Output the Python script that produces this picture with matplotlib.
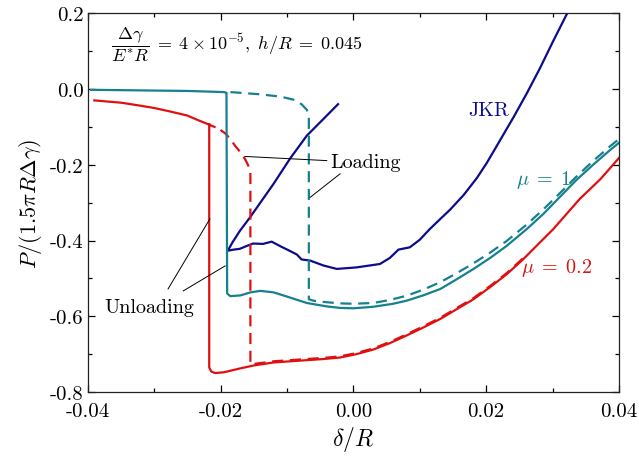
import numpy as np
import matplotlib
matplotlib.use("Agg")
import matplotlib.pyplot as plt

plt.rcParams["font.family"] = "serif"
plt.rcParams["font.serif"] = ["cmr10"]
plt.rcParams["mathtext.fontset"] = "cm"
plt.rcParams["axes.unicode_minus"] = False

nan = np.nan

# mu = 1, unloading (solid)
mu1_unload_x = [-0.0395, -0.0300, -0.0250, -0.0195, -0.0191, -0.0190, -0.0185, -0.0170, -0.0155,
                -0.0140, -0.0120, -0.0100, -0.0070, -0.0040, -0.0020, 0.0000, 0.0030, 0.0060,
                0.0080, 0.0105, 0.0131, 0.0155, 0.0181, 0.0206, 0.0231, 0.0261, 0.0286, 0.0311,
                0.0336, 0.0361, 0.0386, 0.0400]
mu1_unload_p = [-0.002, -0.004, -0.005, -0.008, -0.010, -0.540, -0.547, -0.545, -0.537,
                -0.533, -0.537, -0.548, -0.565, -0.574, -0.578, -0.579, -0.575, -0.567,
                -0.559, -0.545, -0.528, -0.503, -0.475, -0.446, -0.414, -0.370, -0.330, -0.285,
                -0.240, -0.200, -0.162, -0.142]

# mu = 1, loading (dashed)
mu1_load_x = [-0.0185, -0.0170, -0.0140, -0.0110, -0.0090, -0.0078, -0.0070, -0.0067, -0.0067,
              -0.0060, -0.0040, -0.0020, 0.0000, 0.0030, 0.0055, 0.0080, 0.0105, 0.0131, 0.0155,
              0.0181, 0.0206, 0.0231, 0.0261, 0.0286, 0.0311, 0.0336, 0.0361, 0.0386, 0.0400]
mu1_load_p = [-0.008, -0.010, -0.014, -0.020, -0.028, -0.040, -0.055, -0.070, -0.555,
              -0.559, -0.563, -0.566, -0.567, -0.565, -0.557, -0.546, -0.530, -0.510, -0.487,
              -0.460, -0.432, -0.401, -0.358, -0.318, -0.275, -0.231, -0.190, -0.152, -0.132]

# mu = 0.2, unloading (solid)
mu02_unload_x = [-0.0390, -0.0350, -0.0324, -0.0300, -0.0274, -0.0250, -0.0234, -0.0220, -0.0209,
                 nan, -0.0217, -0.0217, -0.0214, -0.0208, -0.0195, -0.0171, -0.0150, -0.0120,
                 -0.0095, -0.0070, -0.0045, -0.0020, 0.0005, 0.0030, 0.0055, 0.0080, 0.0105,
                 0.0131, 0.0155, 0.0181, 0.0206, 0.0231, 0.0256, 0.0281, 0.0301, 0.0321, 0.0341,
                 0.0372, 0.0400]
mu02_unload_p = [-0.030, -0.036, -0.043, -0.050, -0.060, -0.070, -0.082, -0.092, -0.100,
                 nan, -0.093, -0.735, -0.746, -0.750, -0.748, -0.738, -0.730, -0.722,
                 -0.719, -0.716, -0.713, -0.709, -0.700, -0.688, -0.671, -0.651, -0.630,
                 -0.607, -0.582, -0.555, -0.523, -0.489, -0.449, -0.405, -0.370, -0.330, -0.290,
                 -0.238, -0.182]

# mu = 0.2, loading (dashed)
mu02_load_x = [-0.0200, -0.0193, -0.0185, -0.0178, -0.0170, -0.0163, -0.0158, -0.0155, -0.0155,
               -0.0150, -0.0120, -0.0095, -0.0070, -0.0045, -0.0020, 0.0005, 0.0030, 0.0055,
               0.0080, 0.0105, 0.0131, 0.0155, 0.0181, 0.0206, 0.0231, 0.0256]
mu02_load_p = [-0.108, -0.117, -0.132, -0.150, -0.167, -0.185, -0.203, -0.220, -0.727,
               -0.726, -0.719, -0.716, -0.713, -0.710, -0.706, -0.697, -0.685, -0.668,
               -0.648, -0.627, -0.604, -0.579, -0.552, -0.520, -0.486, -0.446]

# JKR
jkr_x = [-0.0023, -0.0045, -0.0070, -0.0095, -0.0120, -0.0140, -0.0156, -0.0171, -0.0182, -0.0189,
         -0.0180, -0.0171, -0.0160, -0.0151, -0.0136, -0.0123, -0.0110, -0.0095, -0.0085, -0.0078,
         -0.0065, -0.0045, -0.0025, 0.0005, 0.0040, 0.0055, 0.0068, 0.0085, 0.0100, 0.0115,
         0.0131, 0.0146, 0.0166, 0.0186, 0.0201, 0.0221, 0.0241, 0.0261, 0.0281, 0.0301, 0.0322]
jkr_p = [-0.040, -0.079, -0.123, -0.183, -0.250, -0.300, -0.340, -0.375, -0.405, -0.427,
         -0.424, -0.422, -0.414, -0.408, -0.409, -0.403, -0.415, -0.428, -0.437, -0.450,
         -0.453, -0.466, -0.475, -0.471, -0.462, -0.446, -0.424, -0.418, -0.398, -0.370,
         -0.343, -0.318, -0.280, -0.235, -0.195, -0.135, -0.075, -0.012, 0.055, 0.127, 0.200]

x_ticks = [-0.04, -0.02, 0.00, 0.02, 0.04]
x_tick_labels = ["-0.04", "-0.02", "0.00", "0.02", "0.04"]
y_ticks = [-0.8, -0.6, -0.4, -0.2, 0.0, 0.2]
y_tick_labels = ["-0.8", "-0.6", "-0.4", "-0.2", "0.0", "0.2"]

navy = "#0c0c8c"
teal = "#16808f"
red = "#e01010"

fig = plt.figure(figsize=(6.39, 4.60), dpi=100)
ax = fig.add_axes([0.1372, 0.1457, 0.8315, 0.8232])

lw = 1.6
ax.plot(jkr_x, jkr_p, color=navy, lw=lw)
ax.plot(mu02_load_x, mu02_load_p, color=red, lw=lw, ls="--", dashes=(5, 3))
ax.plot(mu02_unload_x, mu02_unload_p, color=red, lw=lw)
ax.plot(mu1_load_x, mu1_load_p, color=teal, lw=lw, ls="--", dashes=(5, 3))
ax.plot(mu1_unload_x, mu1_unload_p, color=teal, lw=lw)

ax.set_xlim(-0.04, 0.04)
ax.set_ylim(-0.8, 0.2)
ax.set_xticks(x_ticks)
ax.set_xticklabels(x_tick_labels)
ax.set_yticks(y_ticks)
ax.set_yticklabels(y_tick_labels)
ax.set_xticks(np.arange(-0.04, 0.0401, 0.01), minor=True)
ax.set_yticks(np.arange(-0.8, 0.201, 0.1), minor=True)
ax.tick_params(which="both", direction="in", top=True, right=True, labelsize=15)
ax.tick_params(axis="x", which="major", pad=7)
ax.tick_params(axis="y", which="major", pad=3)
ax.tick_params(which="major", length=5, width=0.9)
ax.tick_params(which="minor", length=3, width=0.9)
for s in ax.spines.values():
    s.set_linewidth(0.9)
    s.set_color("#222222")

ax.set_xlabel(r"$\delta/R$", fontsize=17, labelpad=3)
ax.set_ylabel(r"$P/(1.5\pi R\Delta\gamma)$", fontsize=16, labelpad=4)

ax.text(-0.0365, 0.12,
        r"$\dfrac{\Delta\gamma}{E^{*}R}\;=\;4\times10^{-5},\ h/R\;=\;0.045$",
        fontsize=13, va="center", ha="left")

# labels for the curves
ax.text(0.0204, -0.055, "JKR", color=navy, fontsize=14.5, ha="center", va="center")
ax.text(0.0287, -0.238, r"$\mu\;=\;1$", color=teal, fontsize=14.5, ha="center", va="center")
ax.text(0.0306, -0.470, r"$\mu\;=\;0.2$", color=red, fontsize=14.5, ha="center", va="center")

# loading / unloading annotations
ax.text(0.0019, -0.193, "Loading", fontsize=14.5, ha="center", va="center")
ax.plot([-0.0040, -0.0163], [-0.189, -0.178], color="black", lw=0.7)
ax.plot([-0.0020, -0.0065], [-0.224, -0.286], color="black", lw=0.7)

ax.text(-0.0308, -0.576, "Unloading", fontsize=14.5, ha="center", va="center")
ax.plot([-0.0279, -0.0216], [-0.528, -0.343], color="black", lw=0.7)
ax.plot([-0.0256, -0.0193], [-0.533, -0.467], color="black", lw=0.7)

fig.savefig("out.png", dpi=100)
